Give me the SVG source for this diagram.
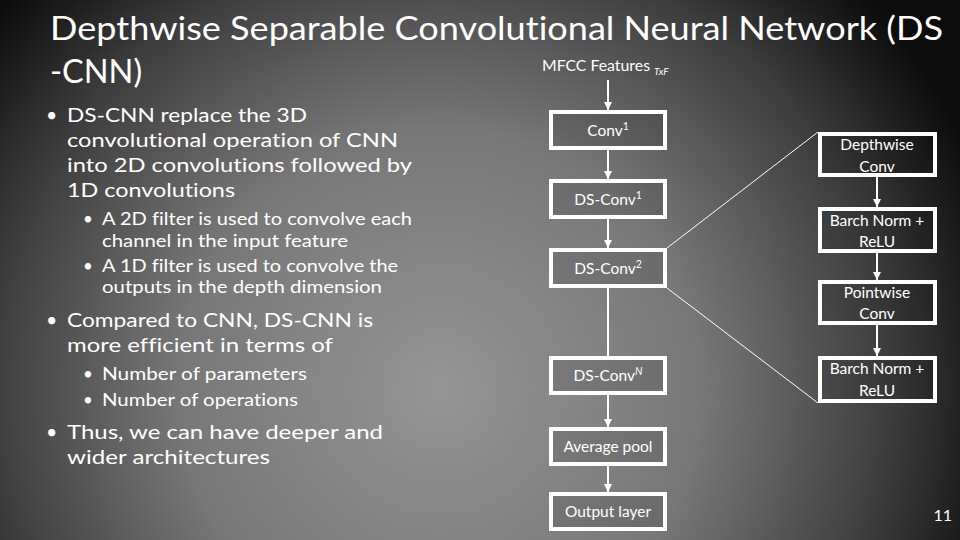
<svg xmlns="http://www.w3.org/2000/svg" width="960" height="540" viewBox="0 0 960 540">
<defs>
<radialGradient id="bg" gradientUnits="userSpaceOnUse" cx="440" cy="390" r="580">
<stop offset="0" stop-color="#959595"/>
<stop offset="0.45" stop-color="#777"/>
<stop offset="0.78" stop-color="#3c3c3c"/>
<stop offset="1" stop-color="#0c0c0c"/>
</radialGradient>
<marker id="arr" markerUnits="userSpaceOnUse" markerWidth="9" markerHeight="8" refX="8" refY="4" orient="auto">
<path d="M0,0 L8,4 L0,8 Z" fill="#fff"/>
</marker>
<style>
text{font-family:Lato,"Open Sans","Liberation Sans",sans-serif;fill:#fff;font-variant-ligatures:none;font-feature-settings:"liga" 0,"clig" 0}
.title{font-size:32.5px}
.b1{font-size:19.5px}
.b2{font-size:17px}
.lbl{font-size:15.5px;text-anchor:middle}
.box{fill:#000;fill-opacity:0.1;stroke:#fff;stroke-width:4}
.ln{stroke:#fff;stroke-width:2;fill:none}
.arrow{marker-end:url(#arr)}
.diag{stroke:#fff;stroke-width:1;fill:none}
</style>
</defs>
<rect width="960" height="540" fill="url(#bg)"/>

<g id="title">
<text class="title" x="50" y="40" textLength="893" lengthAdjust="spacingAndGlyphs">Depthwise Separable Convolutional Neural Network (DS</text>
<text class="title" x="50" y="83">-CNN)</text>
</g>

<g id="body">
<text class="b1" x="46" y="122">•</text>
<text class="b1" x="67" y="122" textLength="240" lengthAdjust="spacingAndGlyphs">DS-CNN replace the 3D</text>
<text class="b1" x="67" y="147" textLength="331" lengthAdjust="spacingAndGlyphs">convolutional operation of CNN</text>
<text class="b1" x="67" y="172" textLength="345" lengthAdjust="spacingAndGlyphs">into 2D convolutions followed by</text>
<text class="b1" x="67" y="197" textLength="168" lengthAdjust="spacingAndGlyphs">1D convolutions</text>
<text class="b2" x="83" y="225">•</text>
<text class="b2" x="102" y="225" textLength="310" lengthAdjust="spacingAndGlyphs">A 2D filter is used to convolve each</text>
<text class="b2" x="102" y="247" textLength="246" lengthAdjust="spacingAndGlyphs">channel in the input feature</text>
<text class="b2" x="83" y="272">•</text>
<text class="b2" x="102" y="272" textLength="296" lengthAdjust="spacingAndGlyphs">A 1D filter is used to convolve the</text>
<text class="b2" x="102" y="293" textLength="280" lengthAdjust="spacingAndGlyphs">outputs in the depth dimension</text>
<text class="b1" x="46" y="327">•</text>
<text class="b1" x="67" y="327" textLength="306" lengthAdjust="spacingAndGlyphs">Compared to CNN, DS-CNN is</text>
<text class="b1" x="67" y="352" textLength="266" lengthAdjust="spacingAndGlyphs">more efficient in terms of</text>
<text class="b2" x="83" y="380">•</text>
<text class="b2" x="102" y="380" textLength="205" lengthAdjust="spacingAndGlyphs">Number of parameters</text>
<text class="b2" x="83" y="406">•</text>
<text class="b2" x="102" y="406" textLength="196" lengthAdjust="spacingAndGlyphs">Number of operations</text>
<text class="b1" x="46" y="439">•</text>
<text class="b1" x="67" y="439" textLength="316" lengthAdjust="spacingAndGlyphs">Thus, we can have deeper and</text>
<text class="b1" x="67" y="464" textLength="203" lengthAdjust="spacingAndGlyphs">wider architectures</text>
</g>

<g id="connectors">
<line class="ln arrow" x1="608" y1="80" x2="608" y2="110"/>
<line class="ln arrow" x1="608" y1="150" x2="608" y2="179"/>
<line class="ln arrow" x1="608" y1="219" x2="608" y2="248"/>
<line class="ln" x1="608" y1="288" x2="608" y2="356"/>
<line class="ln arrow" x1="608" y1="395" x2="608" y2="427"/>
<line class="ln arrow" x1="608" y1="466" x2="608" y2="492"/>
<line class="ln arrow" x1="877" y1="177" x2="877" y2="207"/>
<line class="ln arrow" x1="877" y1="253" x2="877" y2="280"/>
<line class="ln arrow" x1="877" y1="325" x2="877" y2="356"/>
<line class="diag" x1="667" y1="248" x2="818" y2="132"/>
<line class="diag" x1="667" y1="288" x2="818" y2="403"/>
</g>

<g id="mfcc">
<text x="542" y="71" font-size="14.5" textLength="108" lengthAdjust="spacingAndGlyphs">MFCC Features</text>
<text x="654" y="75" font-size="10" font-style="italic">TxF</text>
</g>

<g id="conv1">
<rect class="box" x="551" y="112" width="114" height="36"/>
<text class="lbl" x="608" y="136">Conv<tspan font-size="10.5" dy="-6">1</tspan></text>
</g>
<g id="dsconv1">
<rect class="box" x="551" y="181" width="114" height="36"/>
<text class="lbl" x="608" y="205">DS-Conv<tspan font-size="10.5" dy="-6">1</tspan></text>
</g>
<g id="dsconv2">
<rect class="box" x="551" y="250" width="114" height="36"/>
<text class="lbl" x="608" y="274">DS-Conv<tspan font-size="10.5" dy="-6">2</tspan></text>
</g>
<g id="dsconvN">
<rect class="box" x="551" y="358" width="114" height="35"/>
<text class="lbl" x="608" y="381">DS-Conv<tspan font-size="10.5" font-style="italic" dy="-6">N</tspan></text>
</g>
<g id="avgpool">
<rect class="box" x="551" y="429" width="114" height="35"/>
<text class="lbl" x="608" y="452">Average pool</text>
</g>
<g id="output">
<rect class="box" x="551" y="494" width="114" height="35"/>
<text class="lbl" x="608" y="517">Output layer</text>
</g>

<g id="depthwise">
<rect class="box" x="820" y="134" width="115" height="41"/>
<text class="lbl" x="877" y="150">Depthwise</text>
<text class="lbl" x="877" y="172">Conv</text>
</g>
<g id="bn1">
<rect class="box" x="820" y="209" width="115" height="42"/>
<text class="lbl" x="877" y="226">Barch Norm +</text>
<text class="lbl" x="877" y="247">ReLU</text>
</g>
<g id="pointwise">
<rect class="box" x="820" y="282" width="115" height="41"/>
<text class="lbl" x="877" y="298">Pointwise</text>
<text class="lbl" x="877" y="319">Conv</text>
</g>
<g id="bn2">
<rect class="box" x="820" y="358" width="115" height="43"/>
<text class="lbl" x="877" y="374">Barch Norm +</text>
<text class="lbl" x="877" y="396">ReLU</text>
</g>

<g id="pagenum">
<text x="952" y="521" font-size="16" text-anchor="end">11</text>
</g>
</svg>
